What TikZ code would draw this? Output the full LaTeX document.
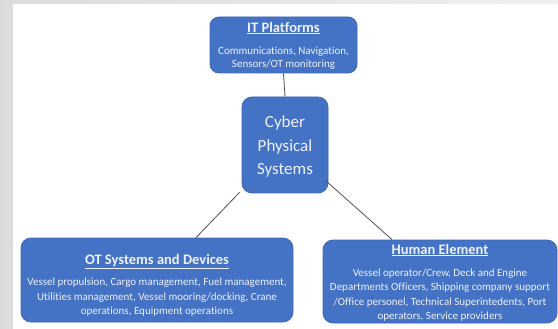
\documentclass[tikz,border=0pt]{standalone}
\usepackage{fontspec}
\setmainfont{Carlito}[Ligatures=NoCommon]
\definecolor{boxblue}{HTML}{4472C4}
\definecolor{boxedge}{HTML}{3D68B8}
\definecolor{boxtext}{HTML}{EEF2FA}
\definecolor{linkgray}{HTML}{505050}
\begin{document}
\begin{tikzpicture}[x=1pt,y=-1pt,
  box/.style={fill=boxblue,draw=boxedge,line width=0.8pt,rounded corners=9pt,inner sep=0pt},
  boxtitle/.style={text=boxtext,font=\fontsize{14.5}{16}\selectfont\bfseries},
  boxbody/.style={text=boxtext,align=center,font=\fontsize{11}{14.5}\selectfont},
  link/.style={draw=linkgray,line width=0.8pt}]
\useasboundingbox (0,0) rectangle (558,329);

% page background
\shade[shading angle=135,left color=gray!28,right color=gray!12] (0,0) rectangle (558,329);
\fill[white] (13,4) rectangle (558,329);

% boxes
\node[box,minimum width=147pt,minimum height=56pt] (it) at (283.5,45) {};
\node[box,minimum width=86pt,minimum height=96pt,rounded corners=10pt] (cps) at (285,145) {};
\node[box,minimum width=272pt,minimum height=84pt,rounded corners=10pt] (ot) at (157,280) {};
\node[box,minimum width=234pt,minimum height=83pt,rounded corners=10pt] (hum) at (440,281.5) {};

% texts
\node[boxtitle] (it-title) at (283.5,28) {\underline{IT Platforms}};
\node[boxbody,font=\fontsize{11}{13}\selectfont] (it-body) at (283.5,58.5)
  {Communications, Navigation,\\Sensors/OT monitoring};
\node[boxbody,font=\fontsize{17}{23.5}\selectfont] (cps-body) at (285,146.5)
  {Cyber\\Physical\\Systems};
\node[boxtitle] (ot-title) at (157,262) {\underline{OT Systems and Devices}};
\node[boxbody] (ot-body) at (157,297.5)
  {Vessel propulsion, Cargo management, Fuel management,\\
   Utilities management, Vessel mooring/docking, Crane\\
   operations, Equipment operations};
\node[boxtitle] (hum-title) at (440,250) {\underline{Human Element}};
\node[boxbody] (hum-body) at (440,295)
  {Vessel operator/Crew, Deck and Engine\\
   Departments Officers, Shipping company support\\
   /Office personel, Technical Superintedents, Port\\
   operators, Service providers};

% links
\draw[link] (it.south) -- (cps.north);
\draw[link] ([xshift=-2pt,yshift=1pt]cps.south west) -- ([xshift=39pt]ot.north);
\draw[link] ([xshift=-3pt,yshift=13pt]cps.south east) -- ([xshift=-48pt]hum.north);
\end{tikzpicture}
\end{document}
